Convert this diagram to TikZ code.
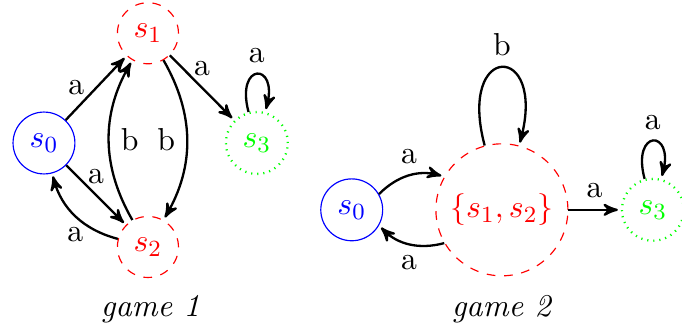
\documentclass[11pt,tikz,border=0pt]{standalone}
\usepackage{amsmath,amssymb}
\usetikzlibrary{arrows}

\begin{document}
\begin{tikzpicture}[>=stealth', shorten >=1pt,
    trans/.style={->, thick},
    init/.style={circle, draw=blue, text=blue, minimum size=0.75cm, inner sep=0pt},
    mixed/.style={circle, draw=red, text=red, dashed, minimum size=0.74cm, inner sep=0pt},
    goal/.style={circle, draw=green, text=green, dash pattern=on 0.4pt off 1.7pt, thick, minimum size=0.75cm, inner sep=0pt}]
    \useasboundingbox (-0.533,-2.279) rectangle (7.733,1.733);
    % game 1
    \node[init]  (p0) at (0,0)        {$s_0$};
    \node[mixed] (p1) at (1.26,1.33)  {$s_1$};
    \node[mixed] (p2) at (1.26,-1.26) {$s_2$};
    \node[goal]  (p3) at (2.58,0)     {$s_3$};
    \draw[trans] (p0) -- node[left]{a} (p1);
    \draw[trans] (p0) -- node[above]{a} (p2);
    \draw[trans] (p2) to[bend left] node[below]{a} (p0);
    \draw[trans] (p2) to[bend left] node[right]{b} (p1);
    \draw[trans] (p1) to[bend left] node[left]{b} (p2);
    \draw[trans] (p1) -- node[above]{a} (p3);
    \draw[trans] (p3) to[loop above] node[above]{a} ();
    \node (t1) at (1.29,-2.02) {\textit{game 1}};
    % game 2
    \node[init]  (q0) at (3.73,-0.81) {$s_0$};
    \node[mixed, minimum size=1.6cm] (q12) at (5.55,-0.81) {$\{s_1,s_2\}$};
    \node[goal]  (q3) at (7.38,-0.81) {$s_3$};
    \draw[trans] (q0) to[bend left] node[above]{a} (q12);
    \draw[trans] (q12) to[bend left] node[below]{a} (q0);
    \draw[trans] (q12) -- node[above]{a} (q3);
    \draw[trans] (q12) to[loop above] node[above]{b} ();
    \draw[trans] (q3) to[loop above] node[above]{a} ();
    \node (t2) at (5.55,-2.02) {\textit{game 2}};
\end{tikzpicture}
\end{document}
